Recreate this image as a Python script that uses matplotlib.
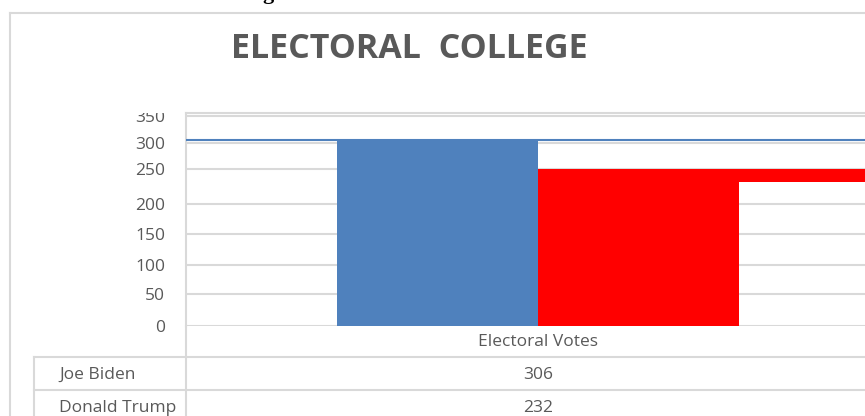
import numpy as np
import matplotlib
matplotlib.use('Agg')
import matplotlib.pyplot as plt
from matplotlib.lines import Line2D
from matplotlib.transforms import Bbox, TransformedBbox

################################################################
#################### DATA ######################################
################################################################

candidates = ['Joe Biden', 'Donald Trump']
electoral_votes = [306, 232]
category = 'Electoral Votes'
band_top = 250

y_ticks = [0, 50, 100, 150, 200, 250, 300, 350]
# height above the zero line (px) at which each tick sits
tick_heights = [0, 32, 61, 92, 122, 157, 183, 210]

################################################################
#################### PARAMETERS ################################
################################################################

W, H = 865, 416
blue = '#4f81bd'
red = '#ff0000'
grid_col = '#d9d9d9'
text_col = '#595959'
body_font = 'Open Sans'
body_size = 12.5

# piecewise axis scale built from the tick spacing
scale_vals = np.array(y_ticks + [400])
scale_pix = np.array(tick_heights + [240])

def forward(v):
    return np.interp(v, scale_vals, scale_pix)

def inverse(p):
    return np.interp(p, scale_pix, scale_vals)

def fx(px):
    return px / W

def fy(py):
    return 1 - py / H

fig = plt.figure(figsize=(W / 100, H / 100), dpi=100)

# plot area (runs off the right edge)
left, right, top, bottom = 186, 890, 113, 326
ax = fig.add_axes([fx(left), fy(bottom), fx(right - left), (bottom - top) / H])
ax.set_yscale('function', functions=(forward, inverse))
ax.set_ylim(0, inverse(bottom - top))
ax.set_xlim(-0.5, 0.5)

width = 0.285
ax.bar(-width / 2, electoral_votes[0], width, color=blue, zorder=3)
ax.bar(width / 2, electoral_votes[1], width, color=red, zorder=3)
# red band and blue line running out to the right
ax.axhspan(electoral_votes[1], band_top, xmin=0.5, xmax=1, color=red, lw=0, zorder=3)
ax.axhline(electoral_votes[0], color=blue, lw=1.5, zorder=4)

ax.set_yticks(y_ticks)
ax.set_yticklabels([str(t) for t in y_ticks])
ax.yaxis.grid(True, color=grid_col, lw=1.5, zorder=0)
ax.tick_params(axis='y', length=0, pad=15, labelsize=body_size, labelcolor=text_col)
for lab in ax.get_yticklabels():
    lab.set_fontfamily(body_font)
ax.set_xticks([0])
ax.set_xticklabels([category], fontsize=body_size, color=text_col, fontfamily=body_font)
ax.tick_params(axis='x', length=0, pad=6)

for side in ['right', 'bottom']:
    ax.spines[side].set_visible(False)
for side in ['left', 'top']:
    ax.spines[side].set_color(grid_col)
    ax.spines[side].set_linewidth(1.5)

# top tick label is cut by the plot frame
clip = TransformedBbox(Bbox([[0, 0], [1, fy(top)]]), fig.transFigure)
lab_top = ax.get_yticklabels()[-1]
lab_top.set_clip_box(clip)
lab_top.set_clip_on(True)

# chart frame and data table lines
def hline(py, x0, x1=W):
    fig.add_artist(Line2D([fx(x0), fx(x1)], [fy(py), fy(py)], color=grid_col, lw=1.5))

def vline(px, y0, y1=H):
    fig.add_artist(Line2D([fx(px), fx(px)], [fy(y0), fy(y1)], color=grid_col, lw=1.5))

hline(13, 10)
vline(10, 13)
vline(left, bottom)
hline(357, 34)
hline(390, 34)
vline(34, 357)

row_y = [375, 408]
for name, val, ry in zip(candidates, electoral_votes, row_y):
    fig.text(fx(59), fy(ry), name, ha='left', va='center', fontsize=body_size,
             color=text_col, fontfamily=body_font)
    fig.text(fx(538), fy(ry), str(val), ha='center', va='center', fontsize=body_size,
             color=text_col, fontfamily=body_font)

# title
fig.text(fx(409), fy(49), 'ELECTORAL  COLLEGE', ha='center', va='center',
         fontsize=24.5, fontweight='bold', color=text_col, fontfamily='Open Sans')

# tail of the heading above the chart
fig.text(fx(262), fy(-1), 'g', ha='left', va='baseline', fontsize=16,
         fontweight='bold', color='black', fontfamily='Liberation Serif')

plt.savefig('out.png', dpi=100)
